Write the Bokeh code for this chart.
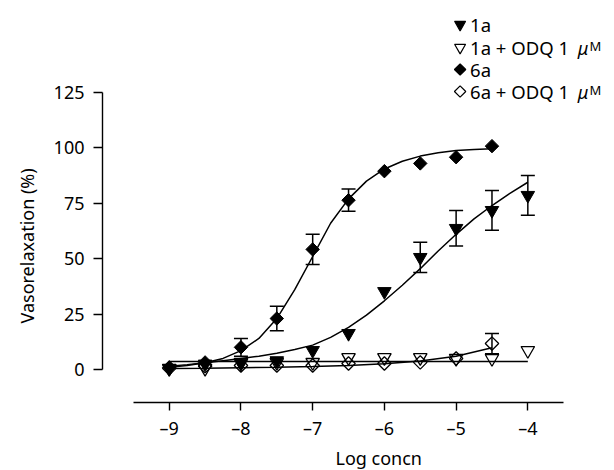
from bokeh.plotting import figure
from bokeh.models import Range1d, FixedTicker, Title
from bokeh.embed import file_html
from bokeh.resources import INLINE
from bokeh.core.properties import value

# ---------------- data ----------------
log_conc = [-9, -8.5, -8, -7.5, -7, -6.5, -6, -5.5, -5, -4.5, -4]
log_conc_6a = [-9, -8.5, -8, -7.5, -7, -6.5, -6, -5.5, -5, -4.5]

resp_1a = [0.5, 2.5, 2.8, 4.0, 8.6, 16.3, 35.2, 50.6, 63.7, 71.8, 78.6]
sem_1a = [0, 0, 0, 0, 0, 0, 0, 6.8, 8.0, 9.0, 9.0]
resp_1a_odq = [0.5, 0.5, 3.2, 3.2, 3.2, 5.4, 5.4, 5.4, 5.0, 5.0, 8.6]

resp_6a = [1.0, 3.2, 10.0, 23.0, 54.2, 76.4, 89.5, 93.0, 95.8, 100.8]
sem_6a = [0, 0, 4.0, 5.5, 6.8, 5.0, 0, 0, 0, 0]
resp_6a_odq = [0.5, 1.5, 1.8, 1.8, 1.8, 2.7, 2.7, 3.2, 5.0, 11.7]
sem_6a_odq = [0, 0, 0, 0, 0, 0, 0, 0, 0, 4.6]

# fitted curves
fit_x_1a = [-9, -8.75, -8.5, -8.25, -8, -7.75, -7.5, -7.25, -7, -6.75, -6.5,
            -6.25, -6, -5.75, -5.5, -5.25, -5, -4.75, -4.5, -4.25, -4]
fit_y_1a = [1.5, 2.2, 3.0, 4.0, 5.0, 6.0, 7.3, 9.0, 11.0, 14.5, 19.0,
            24.5, 31.0, 38.0, 45.5, 53.5, 61.0, 68.0, 74.0, 79.5, 84.5]
fit_x_6a = [-9, -8.75, -8.5, -8.25, -8, -7.75, -7.5, -7.25, -7, -6.75, -6.5,
            -6.25, -6, -5.75, -5.5, -5.25, -5, -4.75, -4.5]
fit_y_6a = [1.0, 1.8, 3.0, 5.0, 8.5, 14.0, 23.0, 36.0, 51.0, 66.0, 77.0,
            85.0, 90.5, 94.0, 96.3, 97.8, 98.8, 99.3, 99.6]
fit_x_1a_odq = [-9, -4]
fit_y_1a_odq = [3.6, 3.6]
fit_x_6a_odq = [-9, -8.5, -8, -7.5, -7, -6.5, -6, -5.5, -5, -4.5]
fit_y_6a_odq = [0.5, 0.6, 0.8, 1.0, 1.3, 1.8, 2.6, 3.8, 6.0, 9.8]

x_ticks = [-9, -8, -7, -6, -5, -4]
x_tick_labels = ["\u20139", "\u20138", "\u20137", "\u20136", "\u20135", "\u20134"]
y_ticks = [0, 25, 50, 75, 100, 125]

series_names = ["1a", "1a + ODQ 1", "6a", "6a + ODQ 1"]
unit_prefix = "\u03bc"
unit_letter = "M"
x_title = "Log concn"
y_title = "Vasorelaxation (%)"

FONT = "Noto Sans"

# ---------------- geometry (canvas pixels -> data) ----------------
PX_PER_X = 72.0
PX_PER_Y = 277.0 / 125.0
X0_PX, Y0_PX = 167.0, 369.0


def X(px):
    return -9 + (px - X0_PX) / PX_PER_X


def Y(py):
    return (Y0_PX - py) / PX_PER_Y


W, H = 614, 470
LEFT, BOTTOM = 100, 68
p = figure(width=W, height=H, output_backend="svg", toolbar_location=None,
           x_range=Range1d(X(LEFT), X(W)), y_range=Range1d(Y(H - BOTTOM), Y(0)),
           min_border_left=LEFT, min_border_right=0, min_border_top=0,
           min_border_bottom=BOTTOM)
p.outline_line_color = None
p.xgrid.visible = False
p.ygrid.visible = False
p.background_fill_color = "white"
p.border_fill_color = "white"

for ax in (p.xaxis[0], p.yaxis[0]):
    ax.axis_line_color = "black"
    ax.axis_line_width = 1.4
    ax.major_tick_line_color = "black"
    ax.major_tick_line_width = 1.4
    ax.major_tick_in = 0
    ax.minor_tick_line_color = None
    ax.major_label_text_font = FONT
    ax.major_label_text_font_size = "18px"
    ax.major_label_text_color = "black"

p.xaxis[0].bounds = (-9.5, -3.5)
p.xaxis[0].ticker = FixedTicker(ticks=x_ticks)
p.xaxis[0].major_label_overrides = dict(zip(x_ticks, x_tick_labels))
p.xaxis[0].major_tick_out = 8
p.xaxis[0].major_label_standoff = 5

p.yaxis[0].bounds = (0, 125)
p.yaxis[0].ticker = FixedTicker(ticks=y_ticks)
p.yaxis[0].major_tick_out = 9
p.yaxis[0].major_label_standoff = 9

# axis titles as side titles, so that they can be offset like the original
p.add_layout(Title(text=x_title, align="left", offset=233, standoff=2,
                   text_font=FONT, text_font_size="18px",
                   text_font_style="normal", text_color="black"), "below")
p.add_layout(Title(text=y_title, align="left", offset=79, standoff=24,
                   text_font=FONT, text_font_size="18px",
                   text_font_style="normal", text_color="black"), "left")

# ---------------- fitted curves ----------------
LW = 1.5
p.line(fit_x_6a, fit_y_6a, line_color="black", line_width=LW)
p.line(fit_x_1a, fit_y_1a, line_color="black", line_width=LW)
p.line(fit_x_1a_odq, fit_y_1a_odq, line_color="black", line_width=LW)
p.line(fit_x_6a_odq, fit_y_6a_odq, line_color="black", line_width=LW)


# ---------------- error bars ----------------
def errbars(xs, ys, es):
    sx = [x for x, e in zip(xs, es) if e > 0]
    lo = [y - e for y, e in zip(ys, es) if e > 0]
    hi = [y + e for y, e in zip(ys, es) if e > 0]
    p.segment(sx, lo, sx, hi, line_color="black", line_width=LW)
    p.scatter(sx + sx, lo + hi, marker="dash", size=14, line_color="black",
              line_width=LW)


errbars(log_conc, resp_1a, sem_1a)
errbars(log_conc_6a, resp_6a, sem_6a)
errbars(log_conc_6a, resp_6a_odq, sem_6a_odq)

# ---------------- markers ----------------
TRI = 13.5
DIA = 9.5
p.scatter(log_conc, resp_1a, marker="inverted_triangle", size=TRI,
          fill_color="black", line_color="black")
p.scatter(log_conc_6a, resp_6a, marker="square", angle=0.785398, size=DIA,
          fill_color="black", line_color="black")
p.scatter(log_conc, resp_1a_odq, marker="inverted_triangle", size=TRI,
          fill_color=None, line_color="black", line_width=1.3)
p.scatter(log_conc_6a, resp_6a_odq, marker="square", angle=0.785398, size=DIA,
          fill_color=None, line_color="black", line_width=1.3)

# ---------------- legend (drawn by hand) ----------------
rows_py = [24, 47, 69, 91]
mk_px = 459
txt_px = 469
leg_markers = ["inverted_triangle", "inverted_triangle", "square", "square"]
leg_fill = ["black", None, "black", None]
leg_angle = [0, 0, 0.785398, 0.785398]
leg_size = [11, 11, 8, 8]
for i in range(4):
    p.scatter([X(mk_px)], [Y(rows_py[i])], marker=leg_markers[i],
              size=leg_size[i], angle=leg_angle[i], fill_color=leg_fill[i],
              line_color="black", line_width=1.2)
p.text([X(txt_px)] * 4, [Y(py) for py in rows_py], text=series_names,
       text_font=value(FONT), text_font_size="18.5px", text_color="black",
       text_baseline="middle", text_align="left")
unit_rows = [rows_py[1], rows_py[3]]
p.text([X(577)] * 2, [Y(py) for py in unit_rows], text=[unit_prefix] * 2,
       text_font=value(FONT), text_font_size="18px", text_font_style="italic",
       text_color="black", text_baseline="middle", text_align="left")
p.text([X(589)] * 2, [Y(py) + 0.5 for py in unit_rows], text=[unit_letter] * 2,
       text_font=value(FONT), text_font_size="13px", text_color="black",
       text_baseline="middle", text_align="left")

open("out.html", "w").write(file_html(p, INLINE))
